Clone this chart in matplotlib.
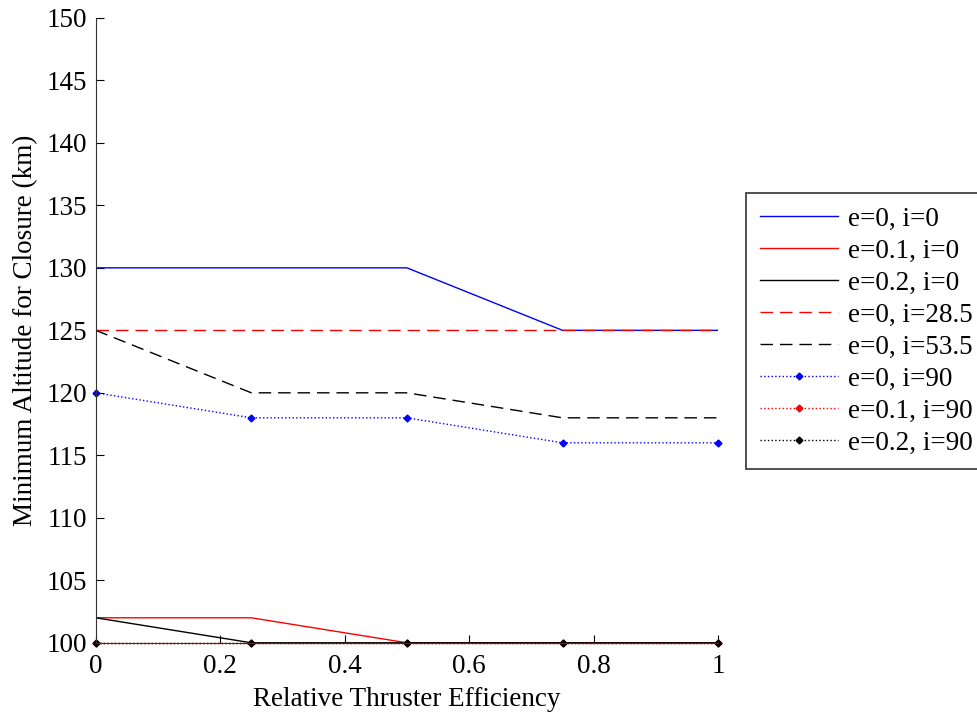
import numpy as np
import matplotlib
matplotlib.use("Agg")
import matplotlib.pyplot as plt

plt.rcParams['font.family'] = ['Liberation Serif', 'DejaVu Serif']
plt.rcParams['font.size'] = 19.5

eff = [0, 0.25, 0.5, 0.75, 1]

e0_i0 = [130, 130, 130, 125, 125]
e01_i0 = [102, 102, 100, 100, 100]
e02_i0 = [102, 100, 100, 100, 100]
e0_i285 = [125, 125, 125, 125, 125]
e0_i535 = [125, 120, 120, 118, 118]
e0_i90 = [120, 118, 118, 116, 116]
e01_i90 = [100, 100, 100, 100, 100]
e02_i90 = [100, 100, 100, 100, 100]

labels = ['e=0, i=0', 'e=0.1, i=0', 'e=0.2, i=0', 'e=0, i=28.5',
          'e=0, i=53.5', 'e=0, i=90', 'e=0.1, i=90', 'e=0.2, i=90']

fig = plt.figure(figsize=(9.77, 7.15), dpi=100)
ax = fig.add_axes([0.098, 0.101, 0.637, 0.874])

lw = 1.0
ax.plot(eff, e0_i0, '-', color='blue', lw=lw, label=labels[0])
ax.plot(eff, e01_i0, '-', color='red', lw=lw, label=labels[1])
ax.plot(eff, e02_i0, '-', color='black', lw=lw, label=labels[2])
ax.plot(eff, e0_i285, '--', color='red', lw=lw, dashes=(9, 5), label=labels[3])
ax.plot(eff, e0_i535, '--', color='black', lw=lw, dashes=(9, 5), label=labels[4])
ax.plot(eff, e0_i90, ':', color='blue', lw=lw, marker='D', ms=3.5, label=labels[5], clip_on=False)
ax.plot(eff, e01_i90, ':', color='red', lw=lw, marker='D', ms=3.5, label=labels[6], clip_on=False)
ax.plot(eff, e02_i90, ':', color='black', lw=lw, marker='D', ms=3.5, label=labels[7], clip_on=False)

ax.set_xlim(0, 1)
ax.set_ylim(100, 150)
ax.set_xticks([0, 0.2, 0.4, 0.6, 0.8, 1])
ax.set_xticklabels(['0', '0.2', '0.4', '0.6', '0.8', '1'])
ax.set_yticks(np.arange(100, 151, 5))
ax.spines['top'].set_visible(False)
ax.spines['right'].set_visible(False)
ax.spines['left'].set_color('#333333')
ax.spines['bottom'].set_color('#333333')
ax.tick_params(direction='in', length=6, colors='black')
ax.tick_params(axis='x', pad=8)
ax.tick_params(axis='y', pad=6)
ax.set_xlabel('Relative Thruster Efficiency', labelpad=6)
ax.set_ylabel('Minimum Altitude for Closure (km)', labelpad=6)

leg = ax.legend(loc='upper left', bbox_to_anchor=(0.7636, 0.73), bbox_transform=fig.transFigure,
                fancybox=False, framealpha=1, edgecolor='#333333', handlelength=2.9,
                handletextpad=0.35, borderpad=0.5, numpoints=1,
                borderaxespad=0, labelspacing=0.26)
leg.get_frame().set_linewidth(1.2)

fig.savefig('out.png', dpi=100)
